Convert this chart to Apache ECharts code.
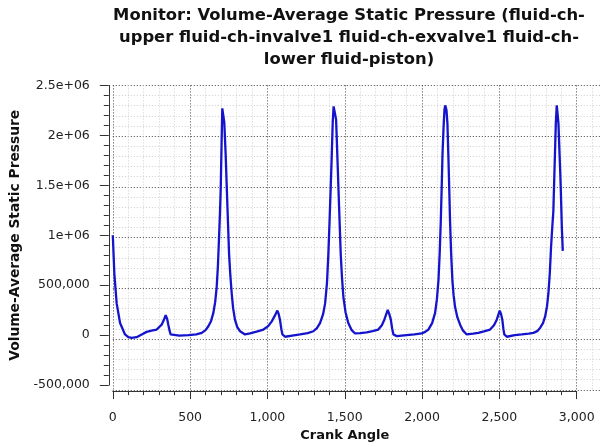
<!DOCTYPE html>
<html><head><meta charset="utf-8">
<script src="https://cdn.jsdelivr.net/npm/echarts@6/dist/echarts.min.js"></script>
<style>html,body{margin:0;padding:0;background:#fff}#c{width:605px;height:447px}</style>
</head><body><div id="c"></div>
<script>
const titleLines = [
  'Monitor: Volume-Average Static Pressure (fluid-ch-',
  'upper fluid-ch-invalve1 fluid-ch-exvalve1 fluid-ch-',
  'lower fluid-piston)'
];
const xAxisTitle = 'Crank Angle';
const yAxisTitle = 'Volume-Average Static Pressure';

const crankAngle = [
  0, 10, 25, 47, 79, 100, 122, 154, 190, 219, 250, 284, 316, 332, 342, 352, 359, 368, 374, 381,
  430, 489, 540, 575, 600, 618, 635, 650, 662, 672, 680, 687, 693, 698, 704, 708, 712, 715, 718, 721,
  730, 741, 752, 760, 769, 778, 790, 805, 823, 855, 887, 930, 974, 1005, 1028, 1048, 1064, 1073, 1081, 1090,
  1097, 1114, 1160, 1211, 1260, 1297, 1320, 1340, 1360, 1373, 1385, 1394, 1402, 1409, 1416, 1422, 1428, 1431, 1436, 1444,
  1452, 1463, 1474, 1482, 1491, 1505, 1523, 1545, 1567, 1600, 1642, 1680, 1717, 1740, 1756, 1778, 1788, 1798, 1806, 1815,
  1837, 1900, 1950, 1998, 2020, 2041, 2065, 2084, 2096, 2106, 2114, 2121, 2127, 2132, 2139, 2145, 2150, 2153, 2158, 2164,
  2170, 2176, 2181, 2188, 2196, 2204, 2213, 2228, 2246, 2265, 2289, 2330, 2364, 2400, 2440, 2465, 2483, 2502, 2511, 2519,
  2526, 2532, 2548, 2600, 2645, 2690, 2720, 2745, 2763, 2782, 2796, 2808, 2817, 2826, 2834, 2842, 2849, 2856, 2861, 2865,
  2871, 2876, 2882, 2888, 2893, 2897, 2904, 2910
];
const pressure = [
  1000000, 614000, 318000, 121000, 7000, -20000, -28000, -20000, 10000, 33000, 45000, 56000, 105000, 160000, 200000, 160000, 105000, 40000, 7000, -5000,
  -5000, 0, 8000, 23000, 50000, 89000, 140000, 220000, 330000, 483000, 700000, 975000, 1220000, 1470000, 1960000, 2270000, 2290000, 2280000, 2250000, 2130000,
  1800000, 1300000, 811000, 600000, 417000, 270000, 155000, 80000, 39000, 7000, 17000, 35000, 56000, 90000, 138000, 195000, 246000, 210000, 155000, 60000,
  7000, -16000, -5000, 7000, 20000, 39000, 70000, 121000, 210000, 318000, 520000, 811000, 1150000, 1470000, 1800000, 2120000, 2290000, 2310000, 2280000, 2160000,
  1800000, 1300000, 811000, 580000, 384000, 230000, 121000, 50000, 17000, 20000, 28000, 40000, 56000, 100000, 155000, 253000, 210000, 155000, 70000, 7000,
  -10000, 0, 8000, 17000, 33000, 56000, 120000, 220000, 360000, 549000, 820000, 1140000, 1480000, 1800000, 2080000, 2260000, 2300000, 2300000, 2250000, 2120000,
  1800000, 1450000, 1140000, 820000, 549000, 400000, 286000, 180000, 105000, 45000, 7000, 15000, 23000, 38000, 56000, 100000, 155000, 246000, 210000, 155000,
  60000, 7000, -16000, 0, 7000, 15000, 23000, 40000, 72000, 120000, 187000, 290000, 417000, 620000, 877000, 1080000, 1240000, 1630000, 1900000, 2120000,
  2300000, 2280000, 2120000, 1860000, 1650000, 1470000, 1070000, 844000
];

const xTickValues = [0, 500, 1000, 1500, 2000, 2500, 3000];
const xTickLabels = ['0', '500', '1,000', '1,500', '2,000', '2,500', '3,000'];
const yTickValues = [-500000, 0, 500000, 1000000, 1500000, 2000000, 2500000];
const yTickLabels = ['-500,000', '0', '500,000', '1e+06', '1.5e+06', '2e+06', '2.5e+06'];

const FONT = 'DejaVu Sans';
const chart = echarts.init(document.getElementById('c'), null, {renderer: 'canvas'});

const gridTop = 85.4, gridBottom = 57.2, gridLeft = 112.8;
const fmt = (vals, labs) => v => { const i = vals.indexOf(v); return i >= 0 ? labs[i] : ''; };

chart.setOption({
  backgroundColor: '#ffffff',
  animation: false,
  title: {
    text: titleLines.join('\n'),
    left: 349, top: 5, textAlign: 'center', padding: 0,
    textStyle: {fontFamily: FONT, fontWeight: 'bold', fontSize: 16.4, lineHeight: 22, color: '#111'}
  },
  grid: [
    {left: gridLeft, right: 5.1, top: gridTop, bottom: gridBottom},
    {left: gridLeft, right: 28.3, top: gridTop, bottom: gridBottom}
  ],
  xAxis: [
    {
      gridIndex: 0, type: 'value', min: 0, max: 3150, interval: 500,
      axisLine: {show: false}, axisTick: {show: false}, axisLabel: {show: false},
      minorTick: {show: false, splitNumber: 5},
      splitLine: {show: true, showMaxLine: false, lineStyle: {color: '#444', type: [1, 2], width: 1}},
      minorSplitLine: {show: true, lineStyle: {color: '#cfcfcf', type: [1, 2], width: 1}}
    },
    {
      gridIndex: 1, type: 'value', min: 0, max: 3000, interval: 500, offset: 6,
      name: xAxisTitle, nameLocation: 'middle', nameGap: 36,
      nameTextStyle: {fontFamily: FONT, fontWeight: 'bold', fontSize: 13, color: '#111'},
      axisLine: {show: true, onZero: false, lineStyle: {color: '#333', width: 1}},
      axisTick: {show: true, length: 8, lineStyle: {color: '#333'}},
      minorTick: {show: true, splitNumber: 5, length: 4, lineStyle: {color: '#333'}},
      axisLabel: {fontFamily: FONT, fontSize: 12.5, color: '#222', margin: 20, formatter: fmt(xTickValues, xTickLabels)},
      splitLine: {show: false}
    }
  ],
  yAxis: [
    {
      gridIndex: 0, type: 'value', min: -500000, max: 2500000, interval: 500000,
      axisLine: {show: false}, axisTick: {show: false}, axisLabel: {show: false},
      minorTick: {show: false, splitNumber: 5},
      splitLine: {show: true, lineStyle: {color: '#444', type: [1, 2], width: 1}},
      minorSplitLine: {show: true, lineStyle: {color: '#cfcfcf', type: [1, 2], width: 1}}
    },
    {
      gridIndex: 1, type: 'value', min: -500000, max: 2500000, interval: 500000, offset: 4,
      name: yAxisTitle, nameLocation: 'middle', nameGap: 78, nameRotate: 90,
      nameTextStyle: {fontFamily: FONT, fontWeight: 'bold', fontSize: 13.8, color: '#111'},
      axisLine: {show: true, onZero: false, lineStyle: {color: '#333', width: 1}},
      axisTick: {show: true, length: 9, lineStyle: {color: '#333'}},
      minorTick: {show: true, splitNumber: 5, length: 5, lineStyle: {color: '#333'}},
      axisLabel: {fontFamily: FONT, fontSize: 12.5, color: '#222', margin: 19, formatter: fmt(yTickValues, yTickLabels)},
      splitLine: {show: false}
    }
  ],
  series: [{
    type: 'line', xAxisIndex: 1, yAxisIndex: 1,
    data: crankAngle.map((a, i) => [a, pressure[i]]),
    showSymbol: false, symbol: 'none',
    lineStyle: {color: '#1414cc', width: 2.3},
    clip: false
  }]
});
</script></body></html>
